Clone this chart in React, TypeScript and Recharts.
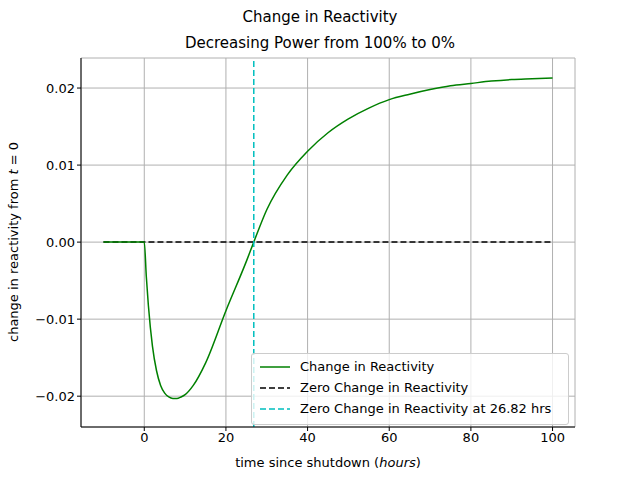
import React from "react";
import { ComposedChart, Line, XAxis, YAxis, CartesianGrid, ReferenceLine } from "recharts";

const times = [-10, -5, 0, 0.5, 1, 2, 3, 4, 5, 6, 7, 8, 9, 10, 12, 15, 20, 25, 26.82, 30, 35, 40, 45, 50, 55, 60, 65, 70, 75, 80, 85, 90, 95, 100];
const reactivity = [0, 0, 0, -0.0045, -0.0082, -0.0135, -0.0167, -0.0186, -0.0196, -0.0201, -0.0203, -0.0203, -0.0201, -0.0198, -0.0186, -0.0157, -0.0089, -0.0025, 0, 0.0042, 0.0087, 0.0118, 0.0142, 0.016, 0.0174, 0.0185, 0.0192, 0.0198, 0.0203, 0.0206, 0.0209, 0.0211, 0.0212, 0.0213];
const zeroTimes = [-10, 100];
const zeroCrossing = 26.82;
const xTicks = [0, 20, 40, 60, 80, 100];
const yTicks = [-0.02, -0.01, 0, 0.01, 0.02];

const curve = times.map((t, i) => ({ t, r: reactivity[i] }));
const zeroLine = zeroTimes.map((t) => ({ t, z: 0 }));
const font = "DejaVu Sans, sans-serif";
const fmtY = (v: number) => (v < 0 ? "\u2212" + Math.abs(v).toFixed(2) : v.toFixed(2));

export default function App() {
  return (
    <div style={{ position: "absolute", left: 0, top: 0, width: 640, height: 480, background: "#fff", fontFamily: font }}>
      <div style={{ position: "absolute", top: 8, width: 640, textAlign: "center", fontSize: 15 }}>Change in Reactivity</div>
      <div style={{ position: "absolute", top: 34, width: 640, textAlign: "center", fontSize: 15 }}>Decreasing Power from 100% to 0%</div>
      <ComposedChart width={640} height={480} margin={{ top: 58, right: 65, bottom: 0, left: 0 }}>
        <CartesianGrid xAxisId="b" yAxisId="l" stroke="#b0b0b0" />
        <XAxis xAxisId="b" dataKey="t" type="number" domain={[-15.5, 105.5]} ticks={xTicks} allowDataOverflow
          tick={{ fill: "#000", fontSize: 13, fontFamily: font }} stroke="#000" tickSize={4} height={53} />
        <XAxis xAxisId="t" dataKey="t" type="number" orientation="top" domain={[-15.5, 105.5]} tick={false} stroke="#000" height={0} />
        <YAxis yAxisId="l" type="number" domain={[-0.024, 0.0239]} ticks={yTicks} allowDataOverflow width={81} tickFormatter={fmtY}
          tick={{ fill: "#000", fontSize: 13, fontFamily: font }} stroke="#000" tickSize={4} />
        <YAxis yAxisId="r" orientation="right" domain={[-0.024, 0.0239]} tick={false} stroke="#000" width={0} />
        <Line xAxisId="b" yAxisId="l" data={zeroLine} dataKey="z" stroke="#000" strokeWidth={1.5} strokeDasharray="6 3" dot={false} isAnimationActive={false} />
        <Line xAxisId="b" yAxisId="l" data={curve} dataKey="r" type="monotone" stroke="#008000" strokeWidth={1.5} dot={false} isAnimationActive={false} />
        <ReferenceLine xAxisId="b" yAxisId="l" x={zeroCrossing} stroke="#00bfbf" strokeWidth={1.5} strokeDasharray="6 3" />
      </ComposedChart>
      <div style={{ position: "absolute", top: 455, left: 81, width: 494, textAlign: "center", fontSize: 13 }}>
        time since shutdown (<i>hours</i>)
      </div>
      <div style={{ position: "absolute", left: 13, top: 242, width: 0, height: 0 }}>
        <div style={{ position: "absolute", transform: "translate(-50%, -50%) rotate(-90deg)", whiteSpace: "nowrap", fontSize: 13 }}>
          change in reactivity from <i>t</i> = 0
        </div>
      </div>
      <div style={{ position: "absolute", left: 251, top: 353, width: 316, height: 66, border: "1px solid #ccc", borderRadius: 3, background: "rgba(255,255,255,0.8)", fontSize: 13, padding: "2px 0" }}>
        {[["Change in Reactivity", "#008000", false], ["Zero Change in Reactivity", "#000", true], ["Zero Change in Reactivity at 26.82 hrs", "#00bfbf", true]].map(([t, c, d]) => (
          <div key={t as string} style={{ display: "flex", alignItems: "center", height: 21, paddingLeft: 8 }}>
            <svg width={30} height={4} style={{ marginRight: 10 }}><line x1={0} y1={2} x2={30} y2={2} stroke={c as string} strokeWidth={1.5} strokeDasharray={d ? "6 3" : undefined} /></svg>
            {t as string}
          </div>
        ))}
      </div>
    </div>
  );
}
